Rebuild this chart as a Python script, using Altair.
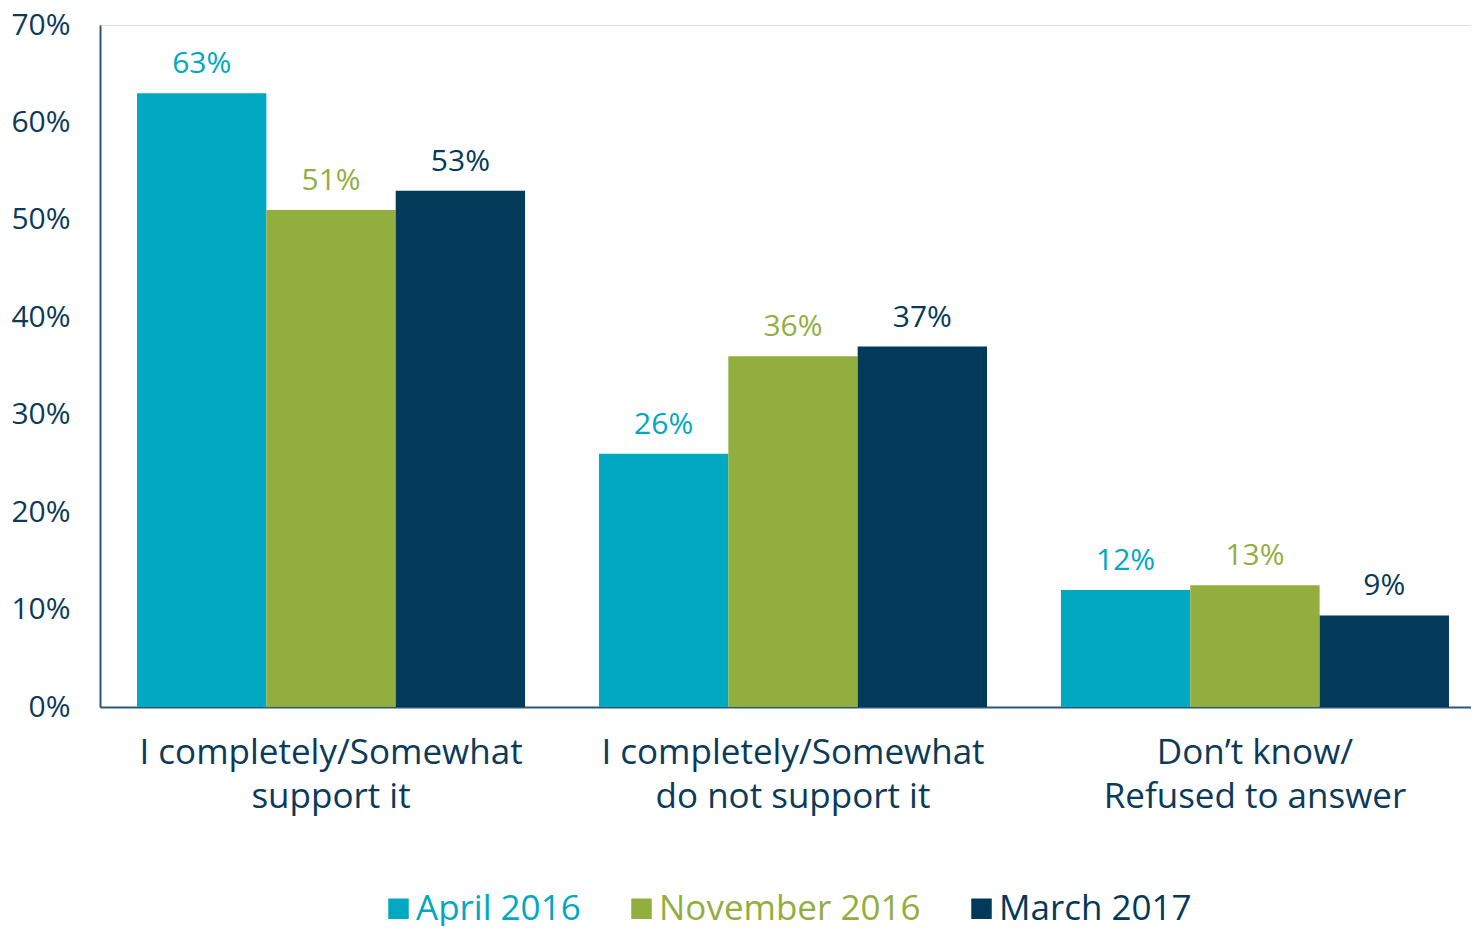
import altair as alt
import pandas as pd

categories = ["I completely/Somewhat|support it",
              "I completely/Somewhat|do not support it",
              "Don\u2019t know/|Refused to answer"]
series = ["April 2016", "November 2016", "March 2017"]
april_2016 = [63, 26, 12]
november_2016 = [51, 36, 12.5]
march_2017 = [53, 37, 9.4]
colors = ["#00a8c2", "#92ae3e", "#033a5a"]
y_ticks = [0, 10, 20, 30, 40, 50, 60, 70]

rows = []
for s, vals in zip(series, [april_2016, november_2016, march_2017]):
    for c, v in zip(categories, vals):
        rows.append({"category": c, "series": s, "value": v})
df = pd.DataFrame(rows)

FONT = "Open Sans"
TEXT = "#0b3a5b"
AXIS = "#2b5876"

color = alt.Color(
    "series:N",
    sort=series,
    scale=alt.Scale(domain=series, range=colors),
    legend=alt.Legend(
        title=None,
        orient="none",
        legendX=281,
        legendY=866,
        direction="horizontal",
        symbolType="square",
        symbolSize=420,
        symbolStrokeWidth=0,
        labelFontSize=35,
        labelFont=FONT,
        labelOffset=0,
        columnPadding=43,
        labelLimit=400,
        labelColor=alt.ExprRef(
            expr="datum.label == 'April 2016' ? '#00a8c2' : (datum.label == 'November 2016' ? '#92ae3e' : '#033a5a')"
        ),
    ),
)

x = alt.X(
    "category:N",
    sort=categories,
    scale=alt.Scale(paddingInner=0.16, paddingOuter=0.0639, align=0.627),
    axis=alt.Axis(
        title=None,
        labelAngle=0,
        labelExpr="split(datum.label, '|')",
        labelFontSize=35,
        labelFont=FONT,
        labelColor=TEXT,
        labelLineHeight=44,
        labelPadding=28,
        labelLimit=600,
        ticks=False,
        domainColor=AXIS,
        domainWidth=2,
    ),
)
xo = alt.XOffset("series:N", sort=series,
                 scale=alt.Scale(paddingInner=0, paddingOuter=0))
y = alt.Y(
    "value:Q",
    scale=alt.Scale(domain=[0, 70], nice=False),
    axis=alt.Axis(
        title=None,
        values=y_ticks,
        labelExpr="datum.value + '%'",
        labelFontSize=30,
        labelFont=FONT,
        labelColor=TEXT,
        labelPadding=30,
        ticks=False,
        grid=False,
        domainColor=AXIS,
        domainWidth=2,
    ),
)

base = alt.Chart(df).transform_calculate(
    label="format(datum.value, '.0f') + '%'"
)
bars = base.mark_bar(strokeWidth=0).encode(x=x, xOffset=xo, y=y, color=color)
labels = base.mark_text(
    dy=-20, baseline="alphabetic", fontSize=30, font=FONT
).encode(
    x=x, xOffset=xo, y=y, color=color,
    text=alt.Text("label:N"),
)

chart = (
    alt.layer(bars, labels)
    .properties(
        width=1371,
        height=682,
        autosize=alt.AutoSizeParams(type="none"),
        padding={"left": 92, "top": 17, "right": 0, "bottom": 219},
    )
    .configure_view(stroke=None)
    .configure(background="white")
)

chart.save("out.html", embed_options={"renderer": "svg", "actions": False})
